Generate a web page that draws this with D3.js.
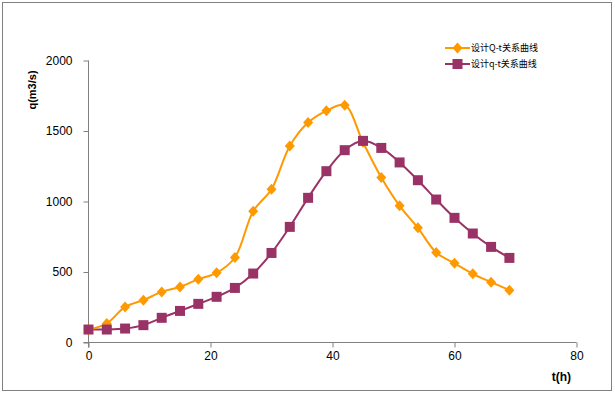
<!DOCTYPE html>
<html>
<head>
<meta charset="utf-8">
<script src="https://cdn.jsdelivr.net/npm/d3@7"></script>
<style>
  body { margin: 0; background: #fff; }
  text { font-family: "Liberation Sans", Arial, sans-serif; }
</style>
</head>
<body>
<div id="chart"></div>
<script>
const hours = [0, 3, 6, 9, 12, 15, 18, 21, 24, 27, 30, 33, 36, 39, 42, 45, 48, 51, 54, 57, 60, 63, 66, 69]
const designQ = [90, 135, 252, 300, 359, 394, 449, 494, 603, 931, 1087, 1394, 1560, 1643, 1683, 1420, 1170, 969, 813, 638, 562, 487, 428, 371]
const designQ2 = [92, 92, 99, 123, 175, 224, 274, 324, 387, 489, 635, 820, 1026, 1215, 1364, 1430, 1380, 1277, 1151, 1014, 884, 773, 678, 600]
const seriesNames = ["设计Q-t关系曲线", "设计q-t关系曲线"]
const xTicks = [0, 20, 40, 60, 80]
const yTicks = [0, 500, 1000, 1500, 2000]

const width = 615
const height = 393
const axisColor = "#808080"

const svg = d3.select("#chart")
  .append("svg")
  .attr("width", width)
  .attr("height", height)

// outer frame
svg.append("rect")
  .attr("x", 2.5)
  .attr("y", 2.5)
  .attr("width", 609)
  .attr("height", 388)
  .attr("fill", "#fff")
  .attr("stroke", axisColor)

const x = d3.scaleLinear().domain([0, 80]).range([88.5, 576.5])
const y = d3.scaleLinear().domain([0, 2000]).range([342.5, 60.5])

const xAxis = svg.append("g")
  .attr("transform", `translate(0,${y(0)})`)
  .call(d3.axisBottom(x).tickValues(xTicks).tickFormat(d3.format("d")).tickSize(5).tickPadding(4))
xAxis.select(".domain").attr("d", `M${x(0) - 5},0H${x(80)}`)

const yAxis = svg.append("g")
  .attr("transform", `translate(${x(0)},0)`)
  .call(d3.axisLeft(y).tickValues(yTicks).tickFormat(d3.format("d")).tickSize(5).tickPadding(11))
yAxis.select(".domain").attr("d", `M0,${y(0) + 5}V${y(2000)}`)

svg.selectAll(".domain, .tick line").attr("stroke", axisColor)
svg.selectAll(".tick text")
  .attr("fill", "#000")
  .style("font-size", "12px")

// axis titles
svg.append("text")
  .attr("transform", "translate(36,90) rotate(-90)")
  .attr("text-anchor", "middle")
  .style("font-size", "11px")
  .style("font-weight", "bold")
  .text("q(m3/s)")

svg.append("text")
  .attr("x", 571)
  .attr("y", 381)
  .attr("text-anchor", "end")
  .style("font-size", "12px")
  .style("font-weight", "bold")
  .text("t(h)")

// marker shapes: rhombus about 10 px wide, square 10 px
const diamond = "M0,-5.5L5,0L0,5.5L-5,0Z"
const square = "M-5,-5H5V5H-5Z"

const series = [
  { name: seriesNames[0], values: designQ, color: "#FF9900", marker: diamond },
  { name: seriesNames[1], values: designQ2, color: "#993366", marker: square }
]

const line = d3.line()
  .x((d) => x(d[0]))
  .y((d) => y(d[1]))
  .curve(d3.curveCatmullRom.alpha(0.5))

// lines: purple under orange
;[1, 0].forEach((i) => {
  const s = series[i]
  const pts = hours.map((h, k) => [h, s.values[k]])
  svg.append("path")
    .attr("d", line(pts))
    .attr("fill", "none")
    .attr("stroke", s.color)
    .attr("stroke-width", 2)
})
// markers: orange first, squares on top
;[0, 1].forEach((i) => {
  const s = series[i]
  const pts = hours.map((h, k) => [h, s.values[k]])
  svg.append("g")
    .selectAll("path")
    .data(pts)
    .join("path")
    .attr("transform", (d) => `translate(${x(d[0])},${y(d[1])})`)
    .attr("d", s.marker)
    .attr("fill", s.color)
})

// legend
const legend = svg.append("g")
series.forEach((s, i) => {
  const ly = 48 + i * 16
  legend.append("line")
    .attr("x1", 445)
    .attr("x2", 470)
    .attr("y1", ly)
    .attr("y2", ly)
    .attr("stroke", s.color)
    .attr("stroke-width", 2)
  legend.append("path")
    .attr("transform", `translate(457.5,${ly})`)
    .attr("d", s.marker)
    .attr("fill", s.color)
  legend.append("text")
    .attr("x", 471)
    .attr("y", ly)
    .attr("dy", "0.35em")
    .style("font-family", "'Noto Sans CJK SC', sans-serif")
    .style("font-size", "9px")
    .text(s.name)
})
</script>
</body>
</html>
